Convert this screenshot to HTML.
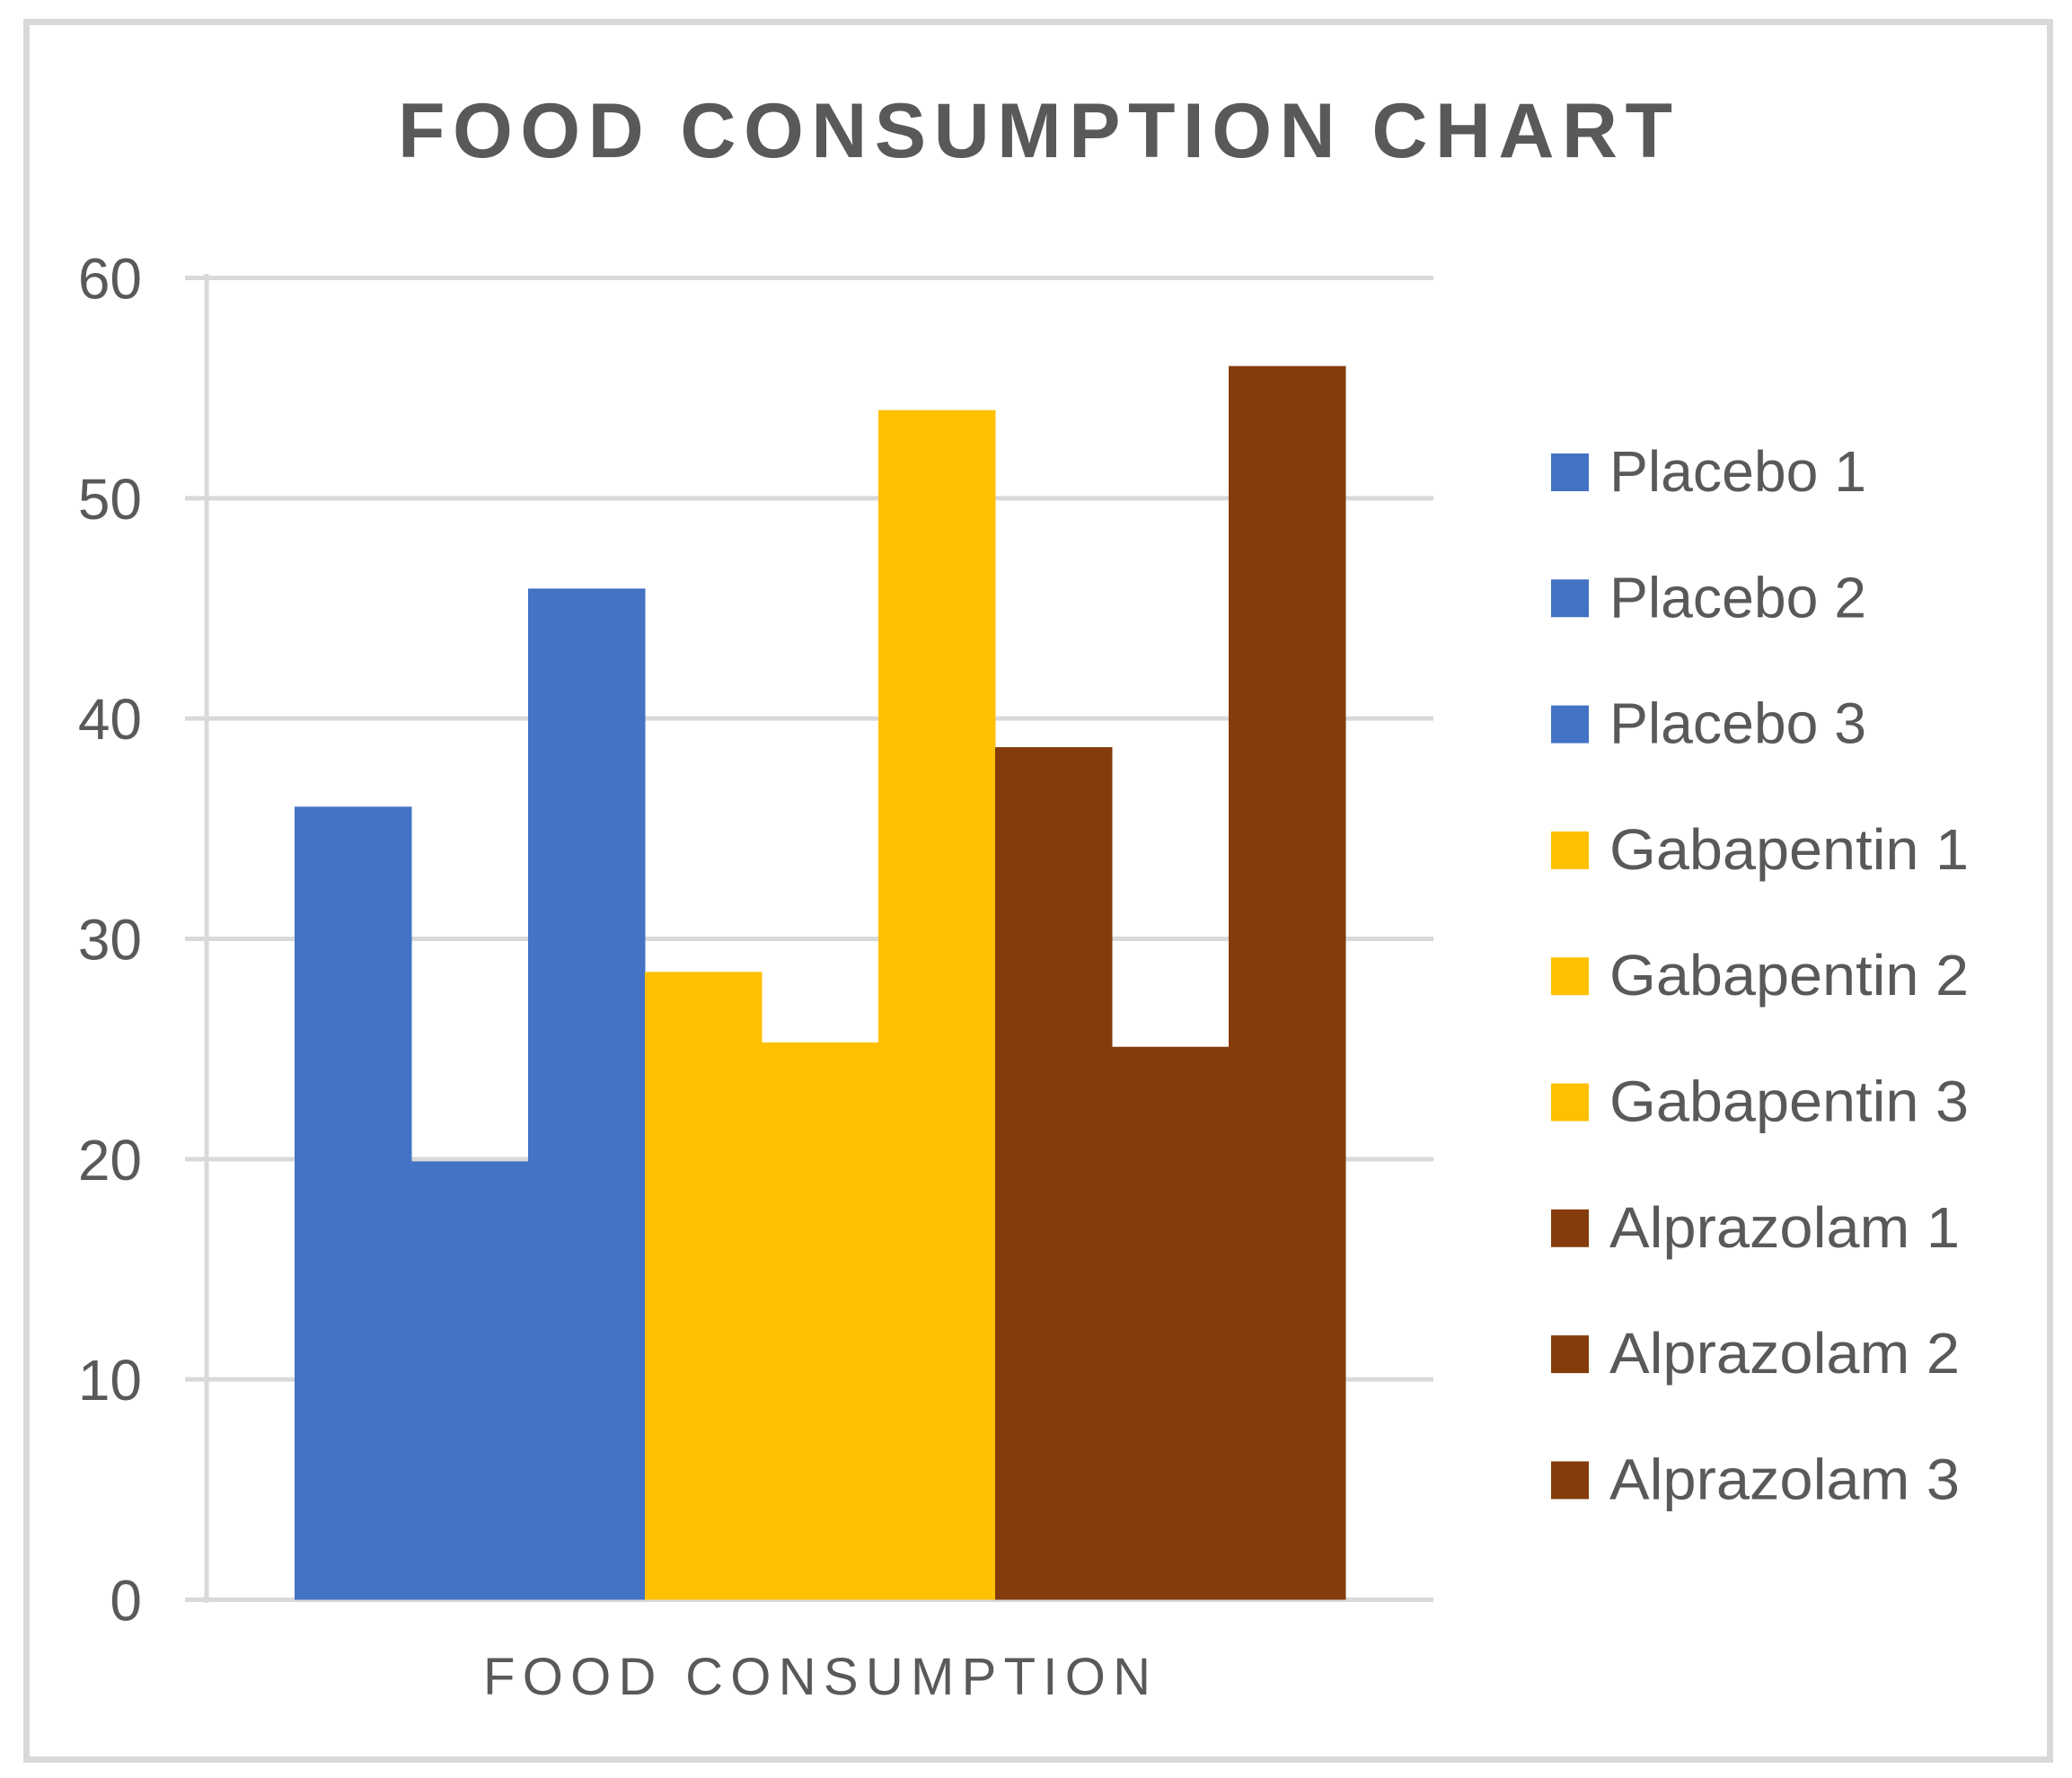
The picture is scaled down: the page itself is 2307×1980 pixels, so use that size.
<!DOCTYPE html>
<html><head><meta charset="utf-8"><style>
html,body{margin:0;padding:0;background:#fff;}
svg{display:block;}
text{font-family:"Liberation Sans",sans-serif;fill:#595959;}
</style></head><body>
<svg id="chart" width="2307" height="1980" viewBox="0 0 2307 1980" xmlns="http://www.w3.org/2000/svg">
<rect x="29.5" y="24.5" width="2253" height="1935" fill="#fff" stroke="#d9d9d9" stroke-width="7"/>
<text x="443" y="175" font-size="86" font-weight="bold" textLength="1419" lengthAdjust="spacing">FOOD CONSUMPTION CHART</text>
<g id="grid"></g>
<g id="bars"></g>
<line x1="230" y1="305" x2="230" y2="1785" stroke="#d9d9d9" stroke-width="5"/>
<g id="yticks"></g>
<text x="538" y="1887" font-size="58" textLength="743" lengthAdjust="spacing">FOOD CONSUMPTION</text>
<g id="legend"></g>
</svg>
<script>
const categories = ["Placebo 1","Placebo 2","Placebo 3","Gabapentin 1","Gabapentin 2","Gabapentin 3","Alprazolam 1","Alprazolam 2","Alprazolam 3"];
const values = [36, 19.9, 45.9, 28.5, 25.3, 54, 38.7, 25.1, 56];
const colors = ["#4472c4","#4472c4","#4472c4","#ffc000","#ffc000","#ffc000","#843c0c","#843c0c","#843c0c"];
const tickValues = [0,10,20,30,40,50,60];
const tickLabels = ["0","10","20","30","40","50","60"];
const legendWidths = [286,286,286,400,400,400,390,390,390];

const NS = "http://www.w3.org/2000/svg";
const yMin = 0, yMax = 60, yTop = 309.5, yBottom = 1781.5;
const y = v => yBottom - (v - yMin) / (yMax - yMin) * (yBottom - yTop);
const plotLeft = 328, plotRight = 1498;
const bw = (plotRight - plotLeft) / categories.length;
const x = i => plotLeft + i * bw;

const grid = document.getElementById('grid');
const yt = document.getElementById('yticks');
tickValues.forEach((t, i) => {
  const l = document.createElementNS(NS, 'line');
  
  
  l.setAttribute('x1', 206); l.setAttribute('x2', 1596);
  l.setAttribute('y1', y(t)); l.setAttribute('y2', y(t));
  l.setAttribute('stroke', '#d9d9d9'); l.setAttribute('stroke-width', 5);
  grid.appendChild(l);
  const tx = document.createElementNS(NS, 'text');
  
  
  tx.setAttribute('x', 158); tx.setAttribute('y', y(t) + 23);
  tx.setAttribute('text-anchor', 'end'); tx.setAttribute('font-size', 64);
  tx.textContent = tickLabels[i];
  yt.appendChild(tx);
});

const bars = document.getElementById('bars');
values.forEach((v, i) => {
  const r = document.createElementNS(NS, 'rect');
  
  
  r.setAttribute('x', x(i)); r.setAttribute('width', bw + 0.5);
  r.setAttribute('y', y(v)); r.setAttribute('height', y(0) - y(v));
  r.setAttribute('fill', colors[i]);
  bars.appendChild(r);
});

const lg = document.getElementById('legend');
categories.forEach((c, i) => {
  const cy = 526 + i * 140.3;
  const g = document.createElementNS(NS, 'g');
  
  
  const s = document.createElementNS(NS, 'rect');
  
  
  s.setAttribute('x', 1727); s.setAttribute('y', cy - 21);
  s.setAttribute('width', 42); s.setAttribute('height', 42);
  s.setAttribute('fill', colors[i]);
  g.appendChild(s);
  const t = document.createElementNS(NS, 'text');
  
  
  t.setAttribute('x', 1792); t.setAttribute('y', cy + 21);
  t.setAttribute('font-size', 64);
  t.setAttribute('textLength', legendWidths[i]);
  t.setAttribute('lengthAdjust', 'spacingAndGlyphs');
  t.textContent = c;
  g.appendChild(t);
  lg.appendChild(g);
});
</script>
</body></html>
